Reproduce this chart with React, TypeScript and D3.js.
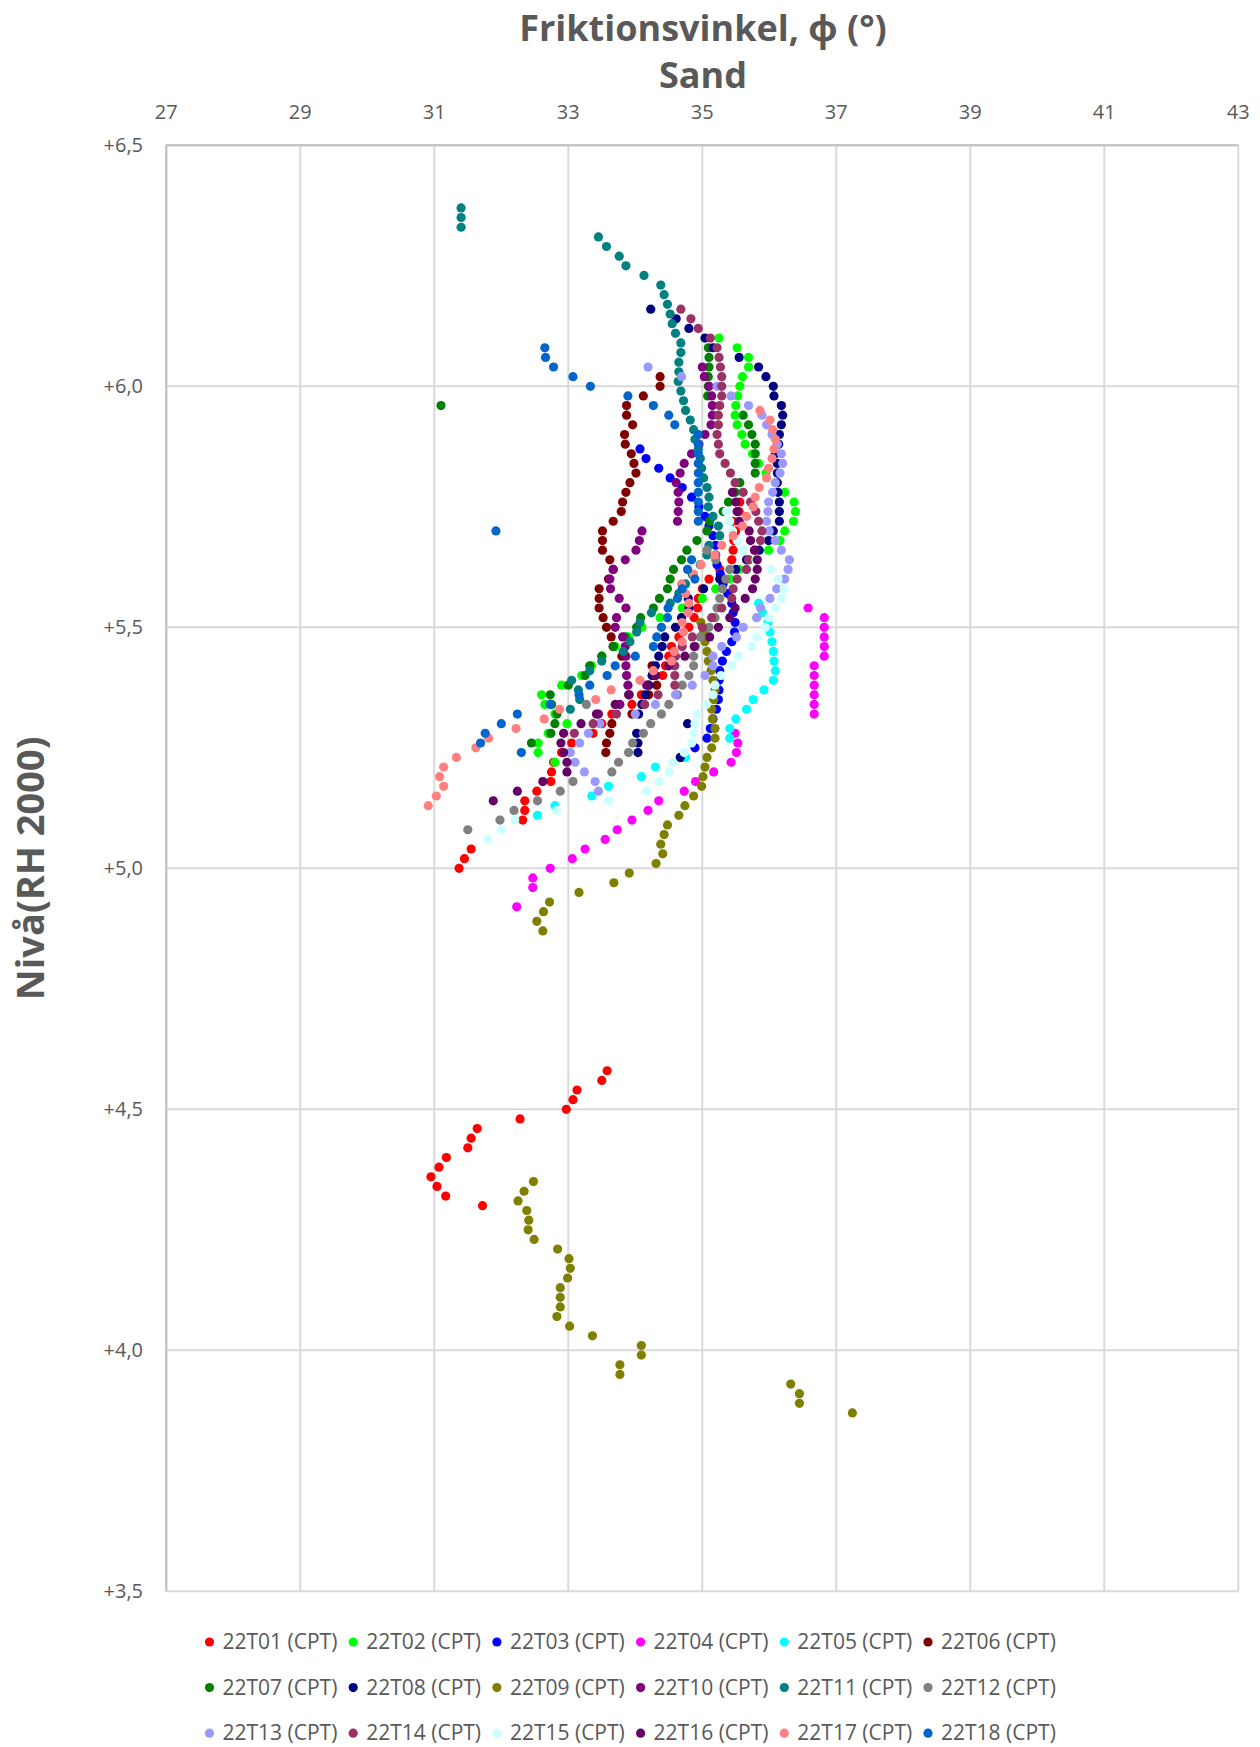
import React from 'react';
import * as d3 from 'd3';

const xTicks = [27, 29, 31, 33, 35, 37, 39, 41, 43];
const yTicks = [3.5, 4.0, 4.5, 5.0, 5.5, 6.0, 6.5];

const names = [
  '22T01 (CPT)', '22T02 (CPT)', '22T03 (CPT)', '22T04 (CPT)', '22T05 (CPT)', '22T06 (CPT)',
  '22T07 (CPT)', '22T08 (CPT)', '22T09 (CPT)', '22T10 (CPT)', '22T11 (CPT)', '22T12 (CPT)',
  '22T13 (CPT)', '22T14 (CPT)', '22T15 (CPT)', '22T16 (CPT)', '22T17 (CPT)', '22T18 (CPT)',
];

const colors = [
  '#ff0000', '#00ff00', '#0000ff', '#ff00ff', '#00ffff', '#800000',
  '#008000', '#000080', '#808000', '#800080', '#008080', '#808080',
  '#9999ff', '#993366', '#ccffff', '#660066', '#ff8080', '#0066cc',
];

// [friktionsvinkel, nivå]
const s01 = [[35.56,5.76],[35.55,5.74],[35.46,5.72],[35.5,5.70],[35.47,5.68],[35.46,5.66],[35.44,5.64],[35.26,5.62],[35.1,5.60],[35.0,5.58],[34.94,5.56],[34.93,5.54],[34.88,5.52],[34.8,5.50],[34.65,5.48],[34.54,5.46],[34.5,5.44],[34.45,5.42],[34.41,5.40],[34.2,5.38],[34.09,5.36],[33.95,5.34],[33.65,5.32],[33.5,5.30],[33.37,5.28],[33.05,5.26],[32.9,5.24],[32.78,5.22],[32.75,5.20],[32.74,5.18],[32.53,5.16],[32.35,5.14],[32.35,5.12],[32.32,5.10],[31.55,5.04],[31.45,5.02],[31.37,5.00],
  [33.58,4.58],[33.50,4.56],[33.13,4.54],[33.07,4.52],[32.97,4.50],[32.28,4.48],[31.64,4.46],[31.55,4.44],[31.50,4.42],[31.18,4.40],[31.07,4.38],[30.95,4.36],[31.04,4.34],[31.17,4.32],[31.72,4.30]];
const s02 = [[35.25,6.10],[35.52,6.08],[35.69,6.06],[35.69,6.04],[35.60,6.02],[35.56,6.00],[35.53,5.98],[35.50,5.96],[35.49,5.94],[35.52,5.92],[35.59,5.90],[35.64,5.88],[35.75,5.86],[35.84,5.84],[35.95,5.82],[36.1,5.80],[36.23,5.78],[36.37,5.76],[36.39,5.74],[36.36,5.72],[36.23,5.70],[36.16,5.68],[35.99,5.66],[35.7,5.64],[35.55,5.62],[35.41,5.60],[35.2,5.58],[35.0,5.56],[34.7,5.54],[34.37,5.52],[34.1,5.50],[33.9,5.48],[33.7,5.46],[33.5,5.44],[33.35,5.42],[33.2,5.40],[32.9,5.38],[32.6,5.36],[32.65,5.34],[32.8,5.32],[32.98,5.30],[32.7,5.28],[32.55,5.26],[32.55,5.24],[32.8,5.22]];
const s03 = [[34.07,5.87],[34.16,5.85],[34.35,5.83],[34.52,5.81],[34.7,5.79],[34.84,5.77],[34.95,5.75],[35.04,5.73],[35.1,5.71],[35.16,5.69],[35.2,5.67],[35.2,5.65],[35.22,5.63],[35.27,5.61],[35.31,5.59],[35.38,5.57],[35.44,5.55],[35.46,5.53],[35.49,5.51],[35.48,5.49],[35.44,5.47],[35.36,5.45],[35.30,5.43],[35.26,5.41],[35.25,5.39],[35.25,5.37],[35.24,5.35],[35.21,5.33],[35.16,5.31],[35.12,5.29],[35.07,5.27],[34.89,5.25],[34.68,5.23]];
const s04 = [[36.58,5.54],[36.82,5.52],[36.82,5.50],[36.82,5.48],[36.82,5.46],[36.82,5.44],[36.67,5.42],[36.67,5.40],[36.67,5.38],[36.67,5.36],[36.67,5.34],[36.67,5.32],[35.49,5.28],[35.53,5.26],[35.51,5.24],[35.43,5.22],[35.17,5.20],[34.90,5.18],[34.73,5.16],[34.35,5.14],[34.19,5.12],[33.95,5.10],[33.73,5.08],[33.55,5.06],[33.25,5.04],[33.06,5.02],[32.73,5.00],[32.47,4.98],[32.47,4.96],[32.23,4.92]];
const s05 = [[35.84,5.55],[35.9,5.53],[35.98,5.51],[36.01,5.49],[36.04,5.47],[36.06,5.45],[36.07,5.43],[36.09,5.41],[36.06,5.39],[35.92,5.37],[35.76,5.35],[35.66,5.33],[35.50,5.31],[35.41,5.29],[35.41,5.27],[34.75,5.23],[34.30,5.21],[34.09,5.19],[33.60,5.17],[33.35,5.15],[32.80,5.13],[32.54,5.11]];
const s06 = [[34.37,6.02],[34.37,6.00],[34.12,5.98],[33.87,5.96],[33.87,5.94],[33.96,5.92],[33.84,5.90],[33.85,5.88],[33.94,5.86],[33.98,5.84],[34.01,5.82],[33.92,5.80],[33.86,5.78],[33.81,5.76],[33.79,5.74],[33.67,5.72],[33.51,5.70],[33.51,5.68],[33.51,5.66],[33.62,5.64],[33.67,5.62],[33.6,5.60],[33.46,5.58],[33.46,5.56],[33.46,5.54],[33.52,5.52],[33.57,5.50],[33.64,5.48],[33.67,5.46],[33.8,5.44],[34.25,5.42],[34.3,5.40],[34.32,5.38],[34.2,5.36],[34.1,5.34],[33.95,5.32],[33.65,5.30],[33.62,5.28],[33.57,5.26],[33.56,5.24]];
const s07 = [[31.10,5.96],[35.09,6.08],[35.1,6.06],[35.1,6.04],[35.09,6.02],[35.09,6.00],[35.08,5.98],[35.61,5.94],[35.69,5.92],[35.74,5.90],[35.79,5.88],[35.79,5.86],[35.79,5.84],[35.79,5.82],[35.56,5.80],[35.49,5.78],[35.39,5.76],[35.31,5.74],[35.11,5.72],[35.07,5.70],[34.92,5.68],[34.77,5.66],[34.69,5.64],[34.57,5.62],[34.52,5.60],[34.48,5.58],[34.36,5.56],[34.27,5.54],[34.08,5.52],[34.02,5.50],[33.85,5.48],[33.67,5.46],[33.5,5.44],[33.32,5.42],[33.25,5.40],[33.0,5.38],[32.73,5.36],[32.75,5.34],[32.83,5.32],[32.80,5.30],[32.74,5.28],[32.45,5.26]];
const s08 = [[34.23,6.16],[34.61,6.14],[34.80,6.12],[35.04,6.10],[35.16,6.08],[35.55,6.06],[35.84,6.04],[35.95,6.02],[36.06,6.00],[36.07,5.98],[36.18,5.96],[36.20,5.94],[36.18,5.92],[36.15,5.90],[36.14,5.88],[36.09,5.86],[36.12,5.84],[36.12,5.82],[36.12,5.80],[36.13,5.78],[36.15,5.76],[36.15,5.74],[36.15,5.72],[36.06,5.70],[35.99,5.68],[35.85,5.66],[35.66,5.64],[35.5,5.62],[35.26,5.60],[35.02,5.58],[34.79,5.56],[34.8,5.54],[34.69,5.52],[34.6,5.50],[34.44,5.48],[34.4,5.46],[34.35,5.44],[34.3,5.42],[34.25,5.40],[34.2,5.38],[34.15,5.36],[34.1,5.34],[34.05,5.32],[34.78,5.30],[34.02,5.28],[34.04,5.26],[34.04,5.24],[34.67,5.23]];
const s09 = [[34.98,5.51],[35.02,5.49],[35.04,5.47],[35.07,5.45],[35.09,5.43],[35.13,5.41],[35.16,5.39],[35.19,5.37],[35.17,5.35],[35.14,5.33],[35.15,5.31],[35.19,5.29],[35.19,5.27],[35.14,5.25],[35.07,5.23],[35.04,5.21],[35.01,5.19],[34.99,5.17],[34.87,5.15],[34.74,5.13],[34.65,5.11],[34.48,5.09],[34.43,5.07],[34.38,5.05],[34.41,5.03],[34.31,5.01],[33.91,4.99],[33.68,4.97],[33.16,4.95],[32.72,4.93],[32.63,4.91],[32.53,4.89],[32.62,4.87],
  [32.48,4.35],[32.34,4.33],[32.25,4.31],[32.38,4.29],[32.41,4.27],[32.40,4.25],[32.49,4.23],[32.84,4.21],[33.01,4.19],[33.03,4.17],[32.99,4.15],[32.88,4.13],[32.88,4.11],[32.88,4.09],[32.83,4.07],[33.02,4.05],[33.36,4.03],[34.09,4.01],[34.09,3.99],[33.77,3.97],[33.77,3.95],[36.32,3.93],[36.45,3.91],[36.45,3.89],[37.24,3.87]];
const s10 = [[35.0,6.04],[35.03,6.02],[35.1,6.00],[35.14,5.98],[35.15,5.96],[35.15,5.94],[35.13,5.92],[35.04,5.90],[34.95,5.88],[34.84,5.86],[34.73,5.84],[34.67,5.82],[34.61,5.80],[34.64,5.78],[34.65,5.76],[34.64,5.74],[34.63,5.72],[34.10,5.70],[34.06,5.68],[34.01,5.66],[33.85,5.64],[33.67,5.62],[33.62,5.60],[33.63,5.58],[33.76,5.56],[33.86,5.54],[33.72,5.52],[33.70,5.50],[33.81,5.48],[33.85,5.46],[33.86,5.44],[33.86,5.42],[33.87,5.40],[33.89,5.38],[33.91,5.36],[33.77,5.34],[33.45,5.32]];
const s11 = [[31.40,6.37],[31.40,6.35],[31.40,6.33],[33.45,6.31],[33.57,6.29],[33.76,6.27],[33.86,6.25],[34.13,6.23],[34.38,6.21],[34.43,6.19],[34.48,6.17],[34.52,6.15],[34.55,6.13],[34.60,6.11],[34.68,6.09],[34.68,6.07],[34.65,6.05],[34.65,6.03],[34.64,6.01],[34.68,5.99],[34.72,5.97],[34.75,5.95],[34.82,5.93],[34.87,5.91],[34.89,5.89],[34.94,5.87],[34.97,5.85],[34.99,5.83],[35.02,5.81],[35.07,5.79],[35.1,5.77],[35.09,5.75],[35.16,5.73],[35.24,5.71],[35.26,5.69],[35.1,5.67],[35.07,5.65],[34.97,5.63],[34.85,5.61],[34.75,5.59],[34.65,5.57],[34.52,5.55],[34.24,5.53],[34.07,5.51],[34.02,5.49],[33.92,5.47],[33.82,5.45],[33.5,5.43],[33.32,5.41],[33.05,5.39],[33.15,5.37],[33.17,5.35],[33.03,5.33]];
const s12 = [[35.07,5.66],[35.2,5.64],[35.41,5.62],[35.35,5.60],[35.3,5.58],[35.26,5.56],[35.22,5.54],[35.19,5.52],[35.1,5.50],[34.97,5.48],[34.9,5.46],[34.87,5.44],[34.87,5.42],[34.8,5.40],[34.7,5.38],[34.63,5.36],[34.5,5.34],[34.39,5.32],[34.23,5.30],[34.12,5.28],[33.96,5.26],[33.90,5.24],[33.75,5.22],[33.65,5.20],[33.27,5.34],[33.07,5.18],[32.88,5.16],[32.54,5.14],[32.19,5.12],[31.98,5.10],[31.5,5.08]];
const s13 = [[34.19,6.04],[34.69,6.02],[35.22,6.00],[35.43,5.98],[35.69,5.96],[35.89,5.94],[35.96,5.92],[36.04,5.90],[36.12,5.88],[36.18,5.86],[36.20,5.84],[36.16,5.82],[36.09,5.80],[36.05,5.78],[35.99,5.76],[35.98,5.74],[35.96,5.72],[36.0,5.70],[36.09,5.68],[36.18,5.66],[36.30,5.64],[36.28,5.62],[36.23,5.60],[36.11,5.58],[36.01,5.56],[35.87,5.54],[35.81,5.52],[35.61,5.50],[35.51,5.48],[35.29,5.46],[35.16,5.44],[35.16,5.42],[35.04,5.40],[34.85,5.38],[34.6,5.36],[34.3,5.34],[34.0,5.32],[33.47,5.30],[33.3,5.28],[33.17,5.26],[33.03,5.24],[33.1,5.22],[33.24,5.20],[33.40,5.18],[33.45,5.16]];
const s14 = [[34.68,6.16],[34.83,6.14],[34.94,6.12],[35.12,6.10],[35.22,6.08],[35.25,6.06],[35.27,6.04],[35.29,6.02],[35.29,6.00],[35.29,5.98],[35.26,5.96],[35.24,5.94],[35.24,5.92],[35.22,5.90],[35.24,5.88],[35.26,5.86],[35.34,5.84],[35.42,5.82],[35.49,5.80],[35.61,5.78],[35.72,5.76],[35.8,5.74],[35.84,5.72],[35.89,5.70],[35.87,5.68],[35.78,5.66],[35.69,5.64],[35.66,5.62],[35.52,5.60],[35.46,5.58],[35.44,5.56],[35.29,5.54],[35.14,5.52],[35.0,5.50],[34.85,5.48],[34.7,5.46],[34.6,5.44],[34.59,5.42],[34.59,5.40],[34.59,5.38],[34.34,5.36],[34.14,5.34],[33.72,5.32],[33.37,5.30],[33.09,5.28]];
const s15 = [[35.36,5.74],[35.41,5.72],[35.45,5.70],[35.52,5.68],[35.61,5.66],[35.8,5.64],[36.03,5.62],[36.13,5.60],[36.22,5.58],[36.18,5.56],[36.09,5.54],[35.99,5.52],[35.94,5.50],[35.81,5.48],[35.74,5.46],[35.54,5.44],[35.44,5.42],[35.28,5.40],[35.19,5.38],[35.16,5.36],[35.06,5.34],[34.93,5.32],[34.89,5.30],[34.87,5.28],[34.84,5.26],[34.73,5.24],[34.56,5.22],[34.51,5.20],[34.35,5.18],[34.17,5.16],[33.60,5.14],[32.83,5.12],[32.2,5.10],[32.0,5.08],[31.8,5.06]];
const s16 = [[35.45,5.78],[35.5,5.76],[35.52,5.74],[35.55,5.72],[35.70,5.70],[35.72,5.68],[35.78,5.66],[35.82,5.64],[35.82,5.62],[35.79,5.60],[35.75,5.58],[35.64,5.56],[35.49,5.54],[35.41,5.52],[35.24,5.50],[35.11,5.48],[34.88,5.46],[34.74,5.44],[34.5,5.42],[34.3,5.40],[34.17,5.38],[33.9,5.36],[33.7,5.34],[33.42,5.32],[33.19,5.30],[32.93,5.28],[32.89,5.26],[32.93,5.24],[32.98,5.22],[32.98,5.20],[32.62,5.18],[32.24,5.16],[31.88,5.14]];
const s17 = [[35.86,5.95],[36.01,5.93],[36.05,5.91],[36.09,5.89],[36.07,5.87],[36.04,5.85],[35.99,5.83],[35.96,5.81],[35.85,5.79],[35.79,5.77],[35.76,5.75],[35.66,5.73],[35.60,5.71],[35.46,5.69],[35.29,5.67],[35.19,5.65],[34.98,5.63],[34.87,5.61],[34.69,5.59],[34.75,5.57],[34.8,5.55],[34.79,5.53],[34.7,5.51],[34.72,5.49],[34.7,5.47],[34.58,5.45],[34.54,5.43],[34.27,5.41],[34.07,5.39],[33.64,5.37],[33.41,5.35],[32.87,5.33],[32.64,5.31],[32.22,5.29],[31.81,5.27],[31.62,5.25],[31.33,5.23],[31.14,5.21],[31.08,5.19],[31.14,5.17],[31.03,5.15],[30.91,5.13]];
const s18 = [[32.65,6.08],[32.66,6.06],[32.78,6.04],[33.07,6.02],[33.33,6.00],[33.89,5.98],[34.27,5.96],[34.50,5.94],[34.59,5.92],[34.94,5.90],[34.94,5.88],[34.94,5.86],[34.94,5.84],[34.94,5.82],[34.94,5.80],[34.94,5.78],[34.94,5.76],[34.94,5.74],[34.94,5.72],[31.92,5.70],[34.84,5.64],[34.78,5.62],[34.89,5.60],[34.70,5.58],[34.63,5.56],[34.49,5.54],[34.48,5.52],[34.39,5.50],[34.32,5.48],[34.27,5.46],[34.0,5.44],[33.7,5.42],[33.58,5.40],[33.32,5.38],[33.16,5.36],[32.73,5.34],[32.24,5.32],[32.0,5.30],[31.76,5.28],[31.69,5.26],[32.30,5.24]];

const series = [s01, s02, s03, s04, s05, s06, s07, s08, s09, s10, s11, s12, s13, s14, s15, s16, s17, s18];

const W = 1260, H = 1747;
const font = '"Open Sans", "Noto Sans", sans-serif';
const grey = '#595959';

export default function App() {
  const x = d3.scaleLinear().domain([27, 43]).range([166.3, 1238.3]);
  const y = d3.scaleLinear().domain([3.5, 6.5]).range([1591.3, 145.3]);
  const fmtY = (v: number) => d3.format('+.1f')(v).replace('.', ',');

  return (
    <svg width={W} height={H} style={{ position: 'absolute', left: 0, top: 0, background: '#fff' }}
      fontFamily={font}>
      {xTicks.map((t) => (
        <line key={'gx' + t} x1={x(t)} x2={x(t)} y1={y(6.5)} y2={y(3.5)} stroke="#d9d9d9" strokeWidth={2} />
      ))}
      {yTicks.map((t) => (
        <line key={'gy' + t} x1={x(27)} x2={x(43)} y1={y(t)} y2={y(t)} stroke="#d9d9d9" strokeWidth={2} />
      ))}
      <line x1={x(27)} x2={x(43)} y1={y(6.5)} y2={y(6.5)} stroke="#bfbfbf" strokeWidth={2} />
      <line x1={x(27)} x2={x(27)} y1={y(6.5)} y2={y(3.5)} stroke="#bfbfbf" strokeWidth={2} />

      {xTicks.map((t) => (
        <text key={'tx' + t} x={x(t)} y={119} textAnchor="middle" fontSize={20} fill={grey}>{t}</text>
      ))}
      {yTicks.map((t) => (
        <text key={'ty' + t} x={143} y={y(t) + 7} textAnchor="end" fontSize={20} fill={grey}>{fmtY(t)}</text>
      ))}

      {series.map((pts, i) => (
        <g key={names[i]} fill={colors[i]}>
          {pts.map((p, j) => (
            <circle key={j} cx={x(p[0])} cy={y(p[1])} r={4.6} />
          ))}
        </g>
      ))}

      <text x={703} y={41} textAnchor="middle" fontSize={36} fontWeight="bold" fill={grey}>Friktionsvinkel, ϕ (°)</text>
      <text x={703} y={88} textAnchor="middle" fontSize={36} fontWeight="bold" fill={grey}>Sand</text>
      <text transform={`translate(44,${(y(6.5) + y(3.5)) / 2}) rotate(-90)`} textAnchor="middle"
        fontSize={38} fontWeight="bold" fill={grey}>Nivå(RH 2000)</text>

      {names.map((n, i) => {
        const lx = 209.5 + (i % 6) * 143.7;
        const ly = 1642 + Math.floor(i / 6) * 45.6;
        return (
          <g key={'lg' + n}>
            <circle cx={lx} cy={ly} r={4.6} fill={colors[i]} />
            <text x={lx + 13} y={ly + 7} fontSize={21} fill={grey}>{n}</text>
          </g>
        );
      })}
    </svg>
  );
}
